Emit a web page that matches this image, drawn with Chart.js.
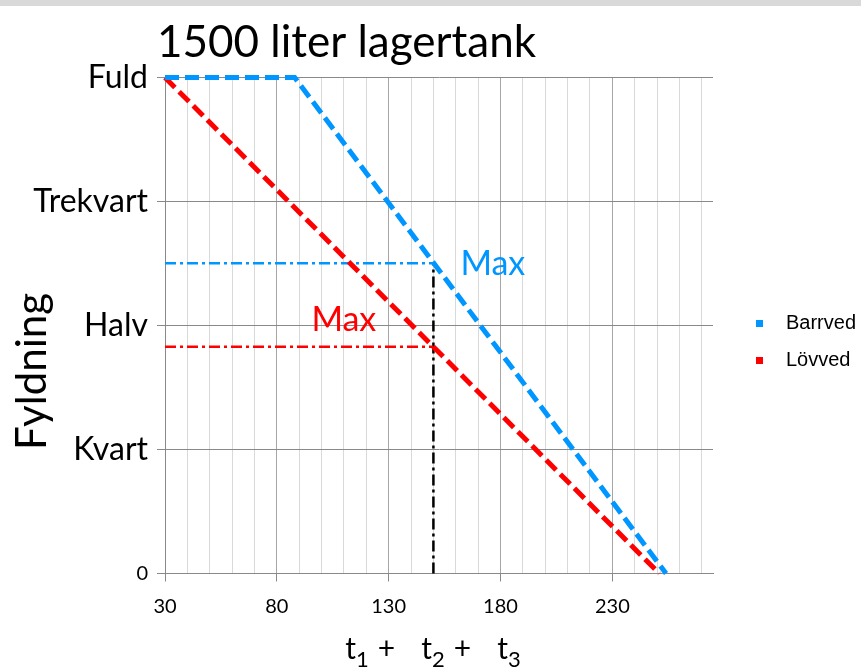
<!DOCTYPE html>
<html>
<head>
<meta charset="utf-8">
<script src="https://cdn.jsdelivr.net/npm/chart.js@4"></script>
<style>
  body { margin: 0; background: #fff; }
  canvas { display: block; }
</style>
</head>
<body>
<canvas id="chart" width="861" height="669"></canvas>
<script>
// axis setup
const xMin = 30;
const xMax = 275;
const xLabelTicks = [30, 80, 130, 180, 230];
const yTickValues = [0, 375, 750, 1125, 1500];
const yTickLabels = ['0', 'Kvart', 'Halv', 'Trekvart', 'Fuld'];

// series (x = tid, y = liter i tanken)
const barrvedX = [30, 88, 254];
const barrvedY = [1500, 1500, 0];
const lovvedX = [30, 251];
const lovvedY = [1500, 0];

// max markers
const maxTime = 150;
const maxBarrved = 938;
const maxLovved = 686;

const chartTitle = '1500 liter lagertank';
const yTitle = 'Fyldning';

const blue = 'rgb(0, 150, 255)';
const red = 'rgb(255, 0, 0)';
const font = 'Lato';

const toPoints = (xs, ys) => xs.map((x, i) => ({ x: x, y: ys[i] }));

// legend marker: small square with room in front of it
function legendMarker(color) {
  const c = document.createElement('canvas');
  c.width = 46;
  c.height = 7;
  const g = c.getContext('2d');
  g.fillStyle = color;
  g.fillRect(26, 0, 7, 7);
  return c;
}

const textPlugin = {
  id: 'textPlugin',
  beforeDraw(chart) {
    const ctx = chart.ctx;
    ctx.save();
    ctx.fillStyle = '#d9d9d9';
    ctx.fillRect(0, 0, chart.width, 6);
    ctx.restore();
  },
  afterDraw(chart) {
    const ctx = chart.ctx;
    const area = chart.chartArea;
    const xs = chart.scales.x;
    const ys = chart.scales.y;
    ctx.save();

    // title
    ctx.fillStyle = '#000';
    ctx.textBaseline = 'alphabetic';
    ctx.textAlign = 'left';
    ctx.font = '44px ' + font;
    ctx.fillText(chartTitle, area.left - 8, 57);

    // Max labels
    ctx.textBaseline = 'middle';
    ctx.font = '34px ' + font;
    ctx.fillStyle = blue;
    ctx.fillText('Max', xs.getPixelForValue(maxTime) + 27, ys.getPixelForValue(maxBarrved) + 1);
    ctx.fillStyle = red;
    ctx.fillText('Max', xs.getPixelForValue(maxTime) - 122, ys.getPixelForValue(maxLovved) - 27);

    // y title
    ctx.fillStyle = '#000';
    ctx.font = '42px ' + font;
    ctx.translate(32, (area.top + area.bottom) / 2 + 46);
    ctx.rotate(-Math.PI / 2);
    ctx.textAlign = 'center';
    ctx.fillText(yTitle, 0, 0);
    ctx.setTransform(1, 0, 0, 1, 0, 0);

    // x title with subscripts
    const parts = [
      { t: 't', pad: 0 }, { t: '1', sub: true, pad: 0 }, { t: '+', pad: 9 },
      { t: 't', pad: 26 }, { t: '2', sub: true, pad: 0 }, { t: '+', pad: 9 },
      { t: 't', pad: 26 }, { t: '3', sub: true, pad: 0 }
    ];
    ctx.textBaseline = 'alphabetic';
    ctx.textAlign = 'left';
    let total = 0;
    parts.forEach(p => {
      ctx.font = (p.sub ? '22px ' : '30px ') + font;
      p.w = ctx.measureText(p.t).width;
      total += p.w + p.pad;
    });
    let x = (area.left + area.right) / 2 - total / 2 - 6;
    parts.forEach(p => {
      ctx.font = (p.sub ? '22px ' : '30px ') + font;
      x += p.pad;
      ctx.fillText(p.t, x, p.sub ? 667 : 659);
      x += p.w;
    });
    ctx.restore();
  }
};

const lineStyle = {
  showLine: true,
  pointRadius: 0,
  pointHoverRadius: 0,
  fill: false,
  clip: false,
  tension: 0,
  borderCapStyle: 'butt'
};

new Chart(document.getElementById('chart'), {
  type: 'scatter',
  data: {
    datasets: [
      {
        ...lineStyle,
        label: 'Barrved',
        data: toPoints(barrvedX, barrvedY),
        borderColor: blue,
        backgroundColor: blue,
        borderWidth: 5,
        borderDash: [14, 6],
        order: 0
      },
      {
        ...lineStyle,
        label: 'Lövved',
        data: toPoints(lovvedX, lovvedY),
        borderColor: red,
        backgroundColor: red,
        borderWidth: 5,
        borderDash: [14, 6],
        order: 0
      },
      {
        ...lineStyle,
        label: 'Max barrved',
        data: toPoints([xMin, maxTime], [maxBarrved, maxBarrved]),
        borderColor: blue,
        borderWidth: 2.5,
        borderDash: [11, 4, 3, 4],
        order: 1
      },
      {
        ...lineStyle,
        label: 'Max lövved',
        data: toPoints([xMin, maxTime], [maxLovved, maxLovved]),
        borderColor: red,
        borderWidth: 2.5,
        borderDash: [11, 4, 3, 4],
        order: 1
      },
      {
        ...lineStyle,
        label: 'Tid',
        data: toPoints([maxTime, maxTime], [0, maxBarrved]),
        borderColor: '#000',
        borderWidth: 2.5,
        borderDash: [11, 4, 3, 4],
        order: 1
      }
    ]
  },
  options: {
    responsive: false,
    devicePixelRatio: 1,
    animation: false,
    events: [],
    layout: { padding: { top: 77.5, left: 0, right: 0, bottom: 0 } },
    plugins: {
      tooltip: { enabled: false },
      title: { display: false },
      legend: {
        position: 'right',
        fullSize: false,
        maxWidth: 148,
        title: { display: true, text: '', font: { size: 27.5 }, padding: 0 },
        labels: {
          usePointStyle: true,
          pointStyleWidth: 46,
          boxHeight: 7,
          padding: 17,
          color: '#000',
          font: { family: 'Liberation Sans', size: 20 },
          generateLabels: (chart) =>
            Chart.defaults.plugins.legend.labels.generateLabels(chart)
              .filter(item => item.datasetIndex < 2)
              .map(item => ({
                ...item,
                pointStyle: legendMarker(item.datasetIndex === 0 ? blue : red),
                lineWidth: 0
              }))
        }
      }
    },
    scales: {
      x: {
        type: 'linear',
        min: xMin,
        max: xMax,
        afterFit: (scale) => { scale.height = 95.5; },
        border: { color: '#898989', width: 1 },
        grid: {
          color: (ctx) => xLabelTicks.includes(ctx.tick.value) ? '#a6a6a6' : '#d9d9d9',
          tickColor: (ctx) => xLabelTicks.includes(ctx.tick.value) ? '#898989' : 'rgba(0,0,0,0)',
          tickLength: 8
        },
        ticks: {
          stepSize: 10,
          includeBounds: false,
          autoSkip: false,
          maxRotation: 0,
          padding: 13,
          color: '#000',
          font: { family: font, size: 20 },
          callback: (value) => xLabelTicks.includes(value) ? String(value) : ''
        }
      },
      y: {
        type: 'linear',
        min: 0,
        max: 1500,
        afterFit: (scale) => { scale.width = 165; },
        afterBuildTicks: (scale) => {
          scale.ticks = yTickValues.map(v => ({ value: v }));
        },
        border: { color: '#898989', width: 1 },
        grid: {
          color: '#898989',
          tickColor: '#898989',
          tickLength: 8
        },
        ticks: {
          padding: 9,
          color: '#000',
          font: (ctx) => ({ family: font, size: ctx.tick && ctx.tick.value === 0 ? 20 : 32 }),
          callback: (value) => yTickLabels[yTickValues.indexOf(value)]
        }
      }
    }
  },
  plugins: [textPlugin]
});
</script>
</body>
</html>
